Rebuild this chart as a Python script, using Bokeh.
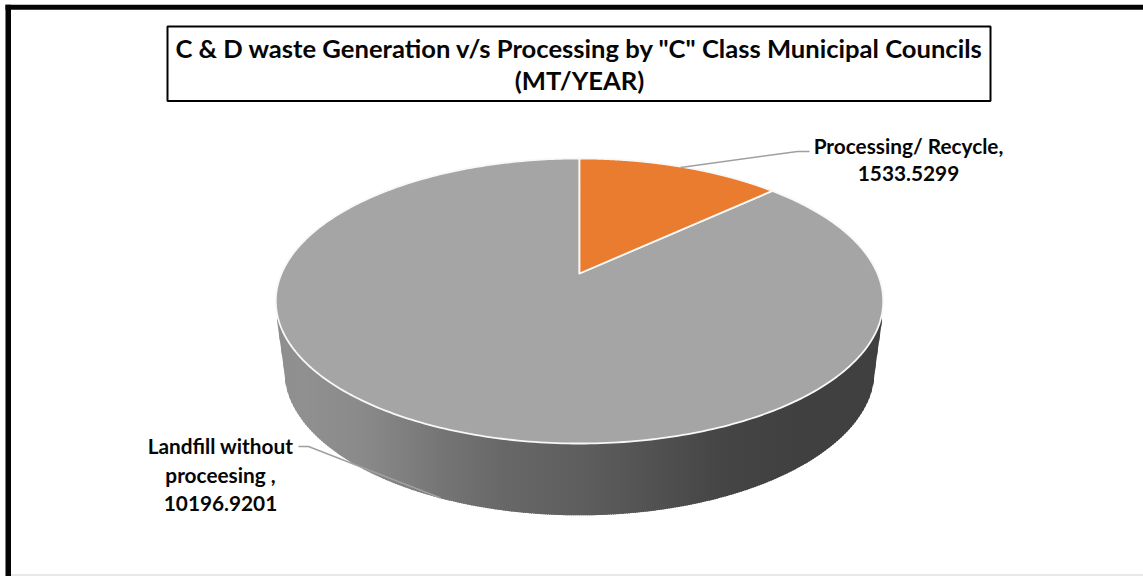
import numpy as np
from bokeh.plotting import figure
from bokeh.core.properties import value
from bokeh.embed import file_html
from bokeh.resources import INLINE

# ---- data
categories = ["Processing/ Recycle", "Landfill without proceesing"]
values = [1533.5299, 10196.9201]
title_lines = ['C & D waste Generation v/s Processing by "C" Class Municipal Councils', "(MT/YEAR)"]
label_lines = [["Processing/ Recycle,", "1533.5299"], ["Landfill without", "proceesing ,", "10196.9201"]]

# ---- styling / layout
W, H = 1143, 576
RW, RH = 1143, 576
FONT = value("Lato")
SLICE_COLORS = ["#ea7c30", "#a5a5a5"]
CX = 579.0
TOP = dict(y0=273.0, R=298.0, B=137.2, k=0.193)
BOT = dict(y0=342.0, R=290.0, B=140.0, k=0.19)
SHADE_X = [275, 300, 360, 400, 440, 500, 580, 660, 720, 800, 885]
SHADE_V = [0x8e, 0x90, 0x8a, 0x80, 0x75, 0x68, 0x5e, 0x50, 0x45, 0x40, 0x40]


def project(theta, g):
    u, v = np.sin(theta), np.cos(theta)
    d = 1 + g["k"] * v
    return CX + g["R"] * u / d, g["y0"] - g["B"] * v / d


p = figure(width=W, height=H, x_range=(0, RW), y_range=(RH, 0), toolbar_location=None,
           output_backend="svg", min_border=0, outline_line_color=None,
           background_fill_color="white", border_fill_color="white")
p.axis.visible = False
p.grid.visible = False

# frame
p.quad(left=[5, 5], right=[10.5, RW], top=[4.3, 4.3], bottom=[RH, 9.3], fill_color="#050505", line_color=None)
p.line([10.5, RW], [574.5, 574.5], line_color="#d2d2d2", line_width=1.2)

# side wall: shaded strips between the front of the top rim and the lower rim
th = np.linspace(np.pi * 0.5, np.pi * 1.5, 721)
tx, ty = project(th, TOP)
bx, by = project(th, BOT)
order_t, order_b = np.argsort(tx), np.argsort(bx)
tx, ty = tx[order_t], ty[order_t]
bx, by = bx[order_b], by[order_b]
keep = by >= by[np.argmin(bx)]
low_x = np.concatenate([[276.5], bx[keep], [881.5]])
low_y = np.concatenate([[320.0], by[keep], [320.0]])
xs_edges = np.arange(276.5, 882.0, 2.0)
sx, sy, sc = [], [], []
for a in xs_edges:
    b = min(a + 3.0, 881.5)
    ya0, yb0 = np.interp([a, b], tx, ty) - 4
    ya1, yb1 = np.interp([a, b], low_x, low_y)
    sx.append([a, b, b, a])
    sy.append([ya0, yb0, yb1, ya1])
    g = int(round(np.interp(a, SHADE_X, SHADE_V)))
    sc.append(f"#{g:02x}{g:02x}{g:02x}")
p.patches(sx, sy, fill_color=sc, line_color=None)

# top face, slices from the values
fracs = np.array(values) / np.sum(values)
edges = np.concatenate([[0.0], np.cumsum(fracs)]) * 2 * np.pi
for i in [1, 0]:
    t = np.linspace(edges[i], edges[i + 1], 361)
    x, y = project(t, TOP)
    x = np.concatenate([[CX], x])
    y = np.concatenate([[TOP["y0"]], y])
    p.patch(x, y, fill_color=SLICE_COLORS[i], line_color="#f8f8f8", line_width=1.8, line_join="round")

# leader lines
p.line([680, 797, 809], [167, 151, 151], line_color="#a0a0a0", line_width=1.5)
p.line([298, 308, 440], [446, 446, 497.5], line_color="#a0a0a0", line_width=1.5)

# title box
p.quad(left=[167], right=[990], top=[26], bottom=[100.5], fill_color="white", line_color="black", line_width=2)


def put(lines, x, ys, size):
    p.text([x] * len(lines), ys, text=lines, text_font=FONT, text_font_style="bold",
           text_font_size=size, text_color="#060606", text_align="center", text_baseline="alphabetic")


put(title_lines, 579, [47, 79], "25.6px")
put(label_lines[0], 908, [145, 173], "20.8px")
put(label_lines[1], 220, [445, 474, 503], "20.8px")

open("out.html", "w").write(file_html(p, INLINE))
